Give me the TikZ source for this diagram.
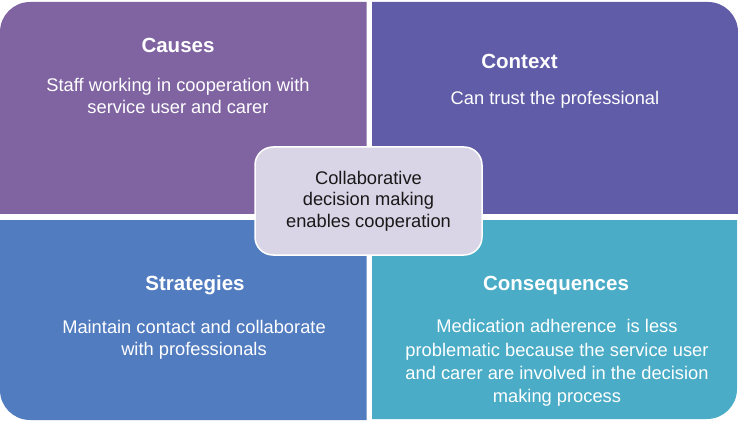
\documentclass[tikz,border=0pt]{standalone}
\usepackage{fontspec}
\setmainfont{Liberation Sans}
\definecolor{cTL}{HTML}{8064A2}
\definecolor{cTR}{HTML}{605CA8}
\definecolor{cBL}{HTML}{517CC0}
\definecolor{cBR}{HTML}{4AACC6}
\definecolor{cMid}{HTML}{D9D5E6}
\definecolor{txtw}{HTML}{FFFFFF}
\tikzset{
  ttl/.style={text=txtw, font=\fontsize{20.5}{24}\selectfont\bfseries, inner sep=0pt},
  body/.style={text=txtw, font=\fontsize{18.3}{21.5}\selectfont, align=center, inner sep=0pt},
  midbox/.style={fill=cMid, draw=white, line width=1.5pt, rounded corners=18pt,
    minimum width=227pt, minimum height=108pt, align=center, inner sep=0pt,
    font=\fontsize{18.3}{21.5}\selectfont, text=black!90},
}
\begin{document}
\begin{tikzpicture}[x=1pt,y=-1pt]
\useasboundingbox (0,0) rectangle (738,422);
\fill[white] (0,0) rectangle (738,422);
% quadrants
\begin{scope}\clip (0,2) rectangle (366.5,213);
\fill[cTL, rounded corners=30pt] (0,2) rectangle (420,260);\end{scope}
\begin{scope}\clip (372,2) rectangle (738,213);
\fill[cTR, rounded corners=30pt] (320,2) rectangle (738,260);\end{scope}
\begin{scope}\clip (0,220) rectangle (366.5,420);
\fill[cBL, rounded corners=30pt] (0,170) rectangle (420,420);\end{scope}
\begin{scope}\clip (372,220) rectangle (737,419);
\fill[cBR, rounded corners=30pt] (320,170) rectangle (737,419);\end{scope}
% texts
\node[ttl] (causesT) at (178,45) {Causes};
\node[body] (causesB) at (178,96) {Staff working in cooperation with\\service user and carer};
\node[ttl] (contextT) at (519.5,61) {Context};
\node[body] (contextB) at (555,100) {Can trust the professional};
\node[ttl] (stratT) at (195,285) {Strategies};
\node[body] (stratB) at (194,340) {Maintain contact and collaborate\\with professionals};
\node[ttl] (consT) at (556,285) {Consequences};
\node[body, font=\fontsize{18.3}{23.2}\selectfont] (consB) at (557,363) {Medication adherence\ \ is less\\problematic because the service user\\and carer are involved in the decision\\making process};
\node[midbox] (mid) at (368.5,201) {Collaborative\\decision making\\enables cooperation};
\end{tikzpicture}
\end{document}
